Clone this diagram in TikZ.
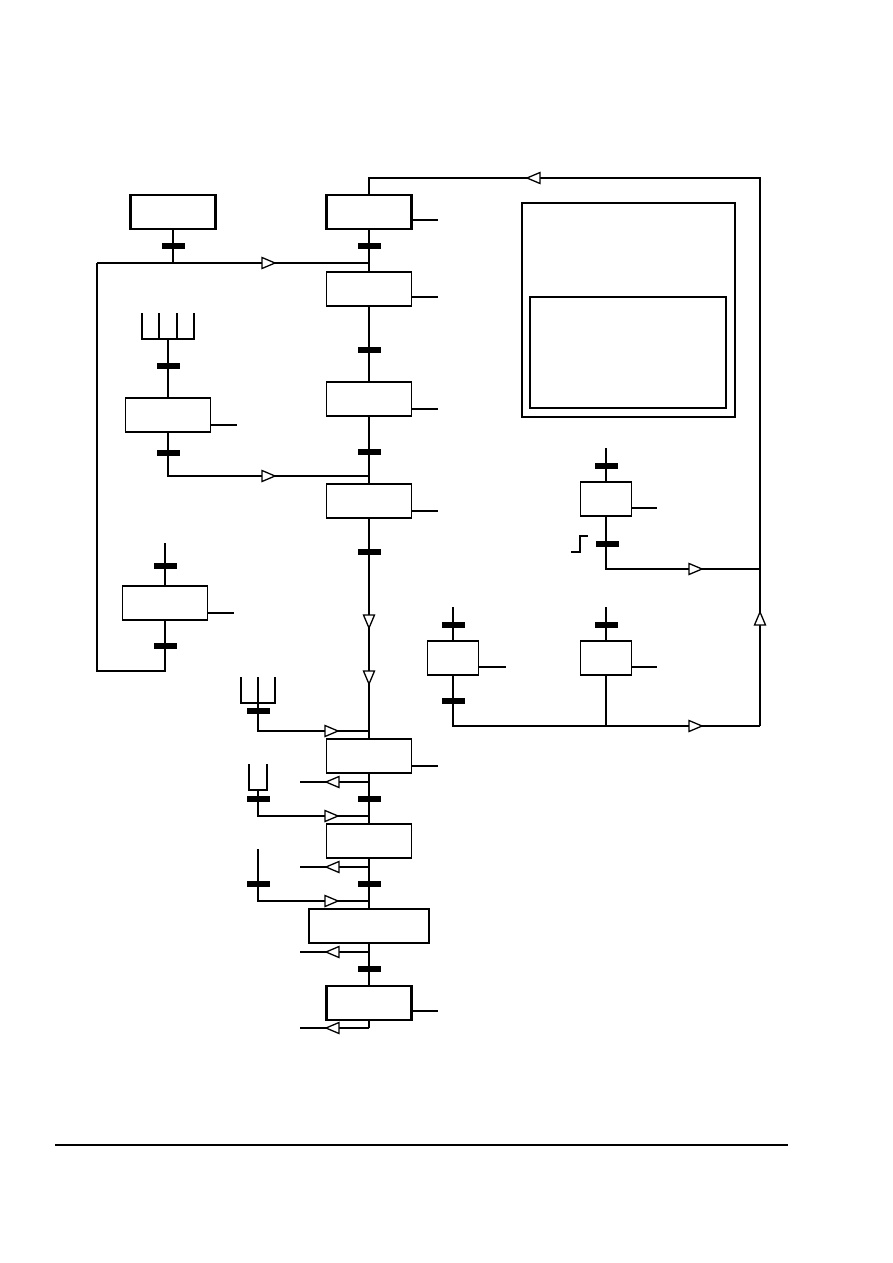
\documentclass[tikz,border=0pt]{standalone}
\begin{document}
\begin{tikzpicture}[x=1pt,y=-1pt,
  box/.style={draw, inner sep=0pt, minimum width=85pt, minimum height=34pt, line width=1.2pt},
  tbox/.style={box, line width=2.4pt},
  mbox/.style={box, line width=1.9pt},
  sbox/.style={box, minimum width=51pt},
  thk/.style={line width=2.2pt},
  thn/.style={line width=1.2pt},
  tbar/.pic={\fill[black] (-11.5,-3) rectangle (11.5,3);},
  otri/.pic={\filldraw[fill=white, draw=black, line width=1.3pt, line join=miter] (0,0) -- (-13,5.5) -- (-13,-5.5) -- cycle;}
]
\useasboundingbox (0,0) rectangle (893,1263);

% boxes
\node[tbox] (L0) at (173,212) {};
\node[tbox] (A1) at (369,212) {};
\node[mbox] (A2) at (369,289) {};
\node[box] (A3) at (369,399) {};
\node[box] (A4) at (369,501) {};
\node[box] (L1) at (168,415) {};
\node[box] (L2) at (165,603) {};
\node[box] (B1) at (369,756) {};
\node[box] (B2) at (369,841) {};
\node[box, minimum width=120pt] (B3) at (369,926) {};
\node[tbox] (B4) at (369,1003) {};
\node[sbox] (R1) at (606,499) {};
\node[sbox] (R2) at (453,658) {};
\node[sbox] (R3) at (606,658) {};

% info frame
\draw[line width=1.6pt] (522,203) rectangle (735,417);
\draw[line width=2.4pt] (530,297) rectangle (726,408);

% coordinates
\coordinate (top) at (369,178);
\coordinate (tr) at (760,178);
\coordinate (br) at (760,726);
\coordinate (j1) at (369,263);
\coordinate (j1l) at (97,263);
\coordinate (lb) at (97,671);
\coordinate (l2b) at (165,671);
\coordinate (j2) at (369,476);
\coordinate (l1b) at (168,476);

% main loop back
\draw[thk] (A1.north) -- (top) -- (tr) -- (br);
\pic at (527,178) [rotate=180] {otri};
\pic at (760,612) [rotate=90] {otri};

% stubs
\draw[thn] (411.5,220) -- (438,220);
\draw[thk] (411.5,297) -- (438,297);
\draw[thk] (411.5,409) -- (438,409);
\draw[thk] (411.5,511) -- (438,511);
\draw[thk] (210.5,425) -- (237,425);
\draw[thk] (207.5,613) -- (234,613);
\draw[thk] (411.5,766) -- (438,766);
\draw[thn] (411.5,1011) -- (438,1011);
\draw[thk] (631.5,508) -- (657,508);
\draw[thk] (478.5,667) -- (506,667);
\draw[thk] (631.5,667) -- (657,667);

% main column
\draw[thk] (A1.south) -- (A2.north);
\pic at (369,246) {tbar};
\draw[thk] (A2.south) -- (A3.north);
\pic at (369,350) {tbar};
\draw[thk] (A3.south) -- (A4.north);
\pic at (369,452) {tbar};
\draw[thk] (A4.south) -- (B1.north);
\pic at (369,552) {tbar};
\pic at (369,628) [rotate=-90] {otri};
\pic at (369,684) [rotate=-90] {otri};

% L0
\draw[thn] (L0.south) -- (173,263);
\pic at (173,246) {tbar};
\draw[thk] (j1l) -- (j1);
\pic at (275,263) {otri};

% L1 branch
\draw[thn] (142,313) -- (142,339) -- (194,339) -- (194,313);
\draw[thn] (159,313) -- (159,339);
\draw[thn] (177,313) -- (177,339);
\draw[thk] (168,339) -- (L1.north);
\pic at (168,366) {tbar};
\draw[thk] (L1.south) -- (l1b) -- (j2);
\pic at (168,453) {tbar};
\pic at (275,476) {otri};

% L2 loop
\draw[thk] (165,543) -- (L2.north);
\pic at (165,566) {tbar};
\draw[thk] (L2.south) -- (l2b) -- (lb) -- (j1l);
\pic at (165,646) {tbar};

% lower column
\draw[thn] (241,677) -- (241,703) -- (275,703) -- (275,677);
\draw[thn] (258,677) -- (258,703);
\draw[thn] (258,703) -- (258,731) -- (369,731);
\pic at (258,711) {tbar};
\pic at (338,731) {otri};

\draw[thk] (B1.south) -- (B2.north);
\draw[thn] (369,782) -- (300,782);
\pic at (326,782) [rotate=180] {otri};
\pic at (369,799) {tbar};

\draw[thn] (249,764) -- (249,790) -- (267,790) -- (267,764);
\draw[thn] (258,790) -- (258,816) -- (369,816);
\pic at (258,799) {tbar};
\pic at (338,816) {otri};

\draw[thk] (B2.south) -- (B3.north);
\draw[thn] (369,867) -- (300,867);
\pic at (326,867) [rotate=180] {otri};
\pic at (369,884) {tbar};

\draw[thn] (258,849) -- (258,901) -- (369,901);
\pic at (258,884) {tbar};
\pic at (338,901) {otri};

\draw[thk] (B3.south) -- (B4.north);
\draw[thn] (369,952) -- (300,952);
\pic at (326,952) [rotate=180] {otri};
\pic at (369,969) {tbar};

\draw[thk] (B4.south) -- (369,1028);
\draw[thn] (369,1028) -- (300,1028);
\pic at (326,1028) [rotate=180] {otri};

% right branches
\draw[thn] (606,448) -- (R1.north);
\pic at (606,466) {tbar};
\draw[thn] (R1.south) -- (606,569) -- (760,569);
\pic at (607,544) {tbar};
\pic at (702,569) {otri};
\draw[thn] (571,552) -- (580,552) -- (580,536) -- (588,536);

\draw[thk] (453,607) -- (R2.north);
\pic at (453,625) {tbar};
\draw[thk] (R2.south) -- (453,726) -- (br);
\pic at (453,701) {tbar};
\pic at (702,726) {otri};

\draw[thn] (606,607) -- (R3.north);
\pic at (606,625) {tbar};
\draw[thn] (R3.south) -- (606,726);

% page rule
\draw[thn] (55,1145) -- (788,1145);
\end{tikzpicture}
\end{document}
